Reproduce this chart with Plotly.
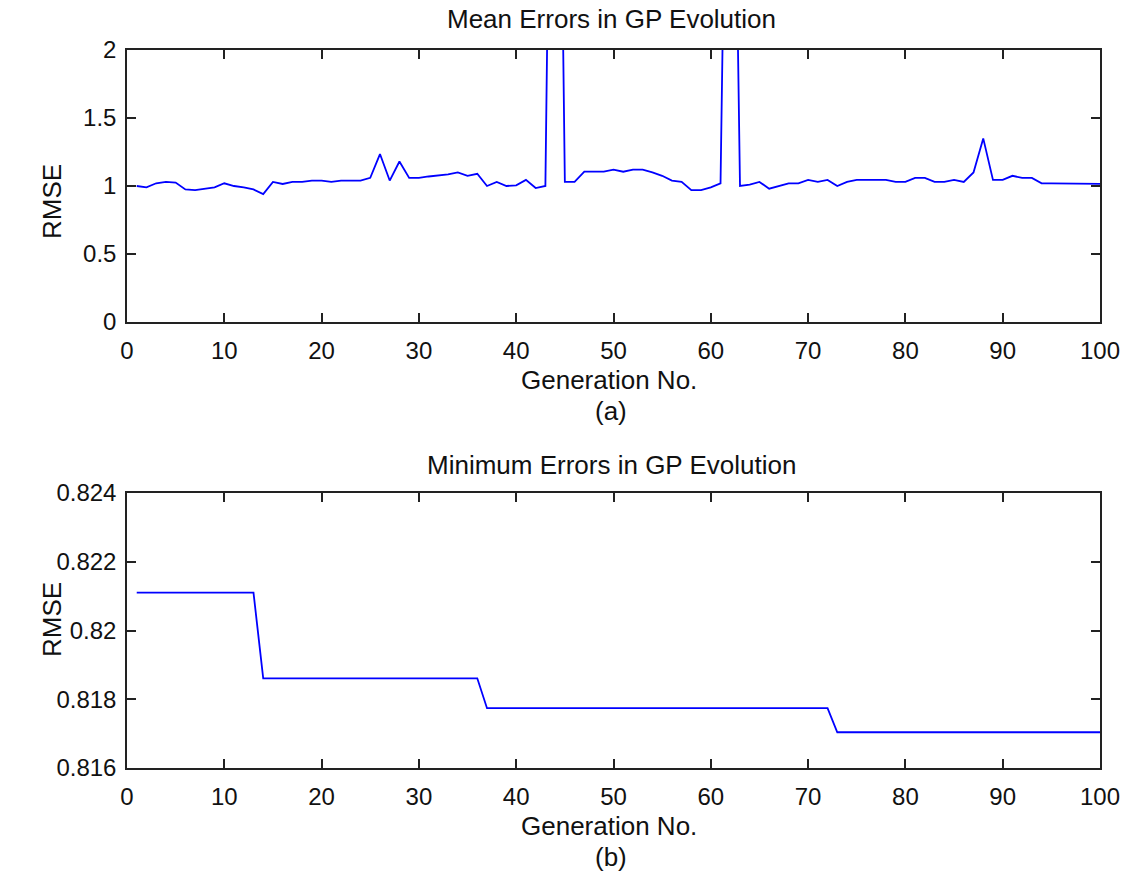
import plotly.graph_objects as go
from plotly.subplots import make_subplots

# Generation numbers
generations = list(range(1, 101))

# Mean RMSE per generation (two generations blow far past the axis limit)
mean_rmse = [
    1.00, 0.99, 1.02, 1.03, 1.025, 0.975, 0.97, 0.98, 0.99, 1.02,
    1.00, 0.99, 0.975, 0.94, 1.03, 1.015, 1.03, 1.03, 1.04, 1.04,
    1.03, 1.04, 1.04, 1.04, 1.06, 1.235, 1.04, 1.18, 1.06, 1.06,
    1.07, 1.075, 1.085, 1.10, 1.075, 1.09, 1.00, 1.03, 1.00, 1.005,
    1.045, 0.985, 1.00, 6.8, 1.03, 1.03, 1.105, 1.105, 1.105, 1.12,
    1.105, 1.12, 1.12, 1.10, 1.075, 1.04, 1.03, 0.97, 0.97, 0.99,
    1.02, 5.9, 1.00, 1.01, 1.03, 0.98, 1.00, 1.02, 1.02, 1.045,
    1.03, 1.045, 1.00, 1.03, 1.045, 1.045, 1.045, 1.045, 1.03, 1.03,
    1.06, 1.06, 1.03, 1.03, 1.045, 1.03, 1.10, 1.35, 1.045, 1.045,
    1.075, 1.06, 1.06, 1.02, 1.02, 1.02, 1.02, 1.02, 1.02, 1.015,
]

# Minimum RMSE per generation
min_rmse = [
    0.82110, 0.82110, 0.82110, 0.82110, 0.82110, 0.82110, 0.82110, 0.82110, 0.82110, 0.82110,
    0.82110, 0.82110, 0.82110, 0.81861, 0.81861, 0.81861, 0.81861, 0.81861, 0.81861, 0.81861,
    0.81861, 0.81861, 0.81861, 0.81861, 0.81861, 0.81861, 0.81861, 0.81861, 0.81861, 0.81861,
    0.81861, 0.81861, 0.81861, 0.81861, 0.81861, 0.81861, 0.81774, 0.81774, 0.81774, 0.81774,
    0.81774, 0.81774, 0.81774, 0.81774, 0.81774, 0.81774, 0.81774, 0.81774, 0.81774, 0.81774,
    0.81774, 0.81774, 0.81774, 0.81774, 0.81774, 0.81774, 0.81774, 0.81774, 0.81774, 0.81774,
    0.81774, 0.81774, 0.81774, 0.81774, 0.81774, 0.81774, 0.81774, 0.81774, 0.81774, 0.81774,
    0.81774, 0.81774, 0.81704, 0.81704, 0.81704, 0.81704, 0.81704, 0.81704, 0.81704, 0.81704,
    0.81704, 0.81704, 0.81704, 0.81704, 0.81704, 0.81704, 0.81704, 0.81704, 0.81704, 0.81704,
    0.81704, 0.81704, 0.81704, 0.81704, 0.81704, 0.81704, 0.81704, 0.81704, 0.81704, 0.81704,
]

x_ticks = [0, 10, 20, 30, 40, 50, 60, 70, 80, 90, 100]
top_y_ticks = [0, 0.5, 1, 1.5, 2]
top_y_labels = ["0", "0.5", "1", "1.5", "2"]
bottom_y_ticks = [0.816, 0.818, 0.820, 0.822, 0.824]
bottom_y_labels = ["0.816", "0.818", "0.82", "0.822", "0.824"]

W, H = 1133, 875
M_L, M_R, M_T, M_B = 127, 33, 50, 107
PLOT_H = H - M_T - M_B


def py(pixel_y):
    """Convert a page pixel row to paper coordinates."""
    return (H - M_B - pixel_y) / PLOT_H


def px(pixel_x):
    return (pixel_x - M_L) / (W - M_L - M_R)


TICK_FONT = dict(family="Liberation Sans, Arial, sans-serif", size=24, color="#111111")
TEXT_FONT = dict(family="Liberation Sans, Arial, sans-serif", size=26, color="#111111")
AXIS_COLOR = "#222222"
LINE = dict(color="#0000ff", width=1.8)

fig = make_subplots(rows=2, cols=1)
fig.add_trace(go.Scatter(x=generations, y=mean_rmse, mode="lines",
                         line=LINE, showlegend=False), row=1, col=1)
fig.add_trace(go.Scatter(x=generations, y=min_rmse, mode="lines",
                         line=LINE, showlegend=False), row=2, col=1)

axis_common = dict(
    showline=True, linecolor=AXIS_COLOR, linewidth=1.5, mirror="ticks",
    ticks="inside", ticklen=9, tickwidth=1.5, tickcolor=AXIS_COLOR,
    showgrid=False, zeroline=False, tickfont=TICK_FONT,
)

fig.update_layout(
    xaxis=dict(domain=[0, 1], range=[0, 100], tickvals=x_ticks, anchor="y",
               ticklabelstandoff=6, **axis_common),
    yaxis=dict(domain=[py(322), 1], range=[0, 2], tickvals=top_y_ticks,
               ticktext=top_y_labels, anchor="x", ticklabelstandoff=4, **axis_common),
    xaxis2=dict(domain=[0, 1], range=[0, 100], tickvals=x_ticks, anchor="y2",
                ticklabelstandoff=6, **axis_common),
    yaxis2=dict(domain=[0, py(493)], range=[0.816, 0.824], tickvals=bottom_y_ticks,
                ticktext=bottom_y_labels, anchor="x2", ticklabelstandoff=4, **axis_common),
    width=W, height=H,
    margin=dict(l=M_L, r=M_R, t=M_T, b=M_B),
    paper_bgcolor="white", plot_bgcolor="white",
    font=TICK_FONT,
)

texts = [
    ("Mean Errors in GP Evolution", px(611), py(19), 0),
    ("Generation No.", px(609), py(380), 0),
    ("(a)", px(611), py(411), 0),
    ("Minimum Errors in GP Evolution", px(611), py(465), 0),
    ("Generation No.", px(609), py(826), 0),
    ("(b)", px(611), py(857), 0),
    ("RMSE", px(52), py(202), -90),
    ("RMSE", px(52), py(620), -90),
]
for text, x, y, angle in texts:
    fig.add_annotation(text=text, x=x, y=y, xref="paper", yref="paper",
                       xanchor="center", yanchor="middle", showarrow=False,
                       textangle=angle, font=TEXT_FONT)

fig.write_html("out.html")
